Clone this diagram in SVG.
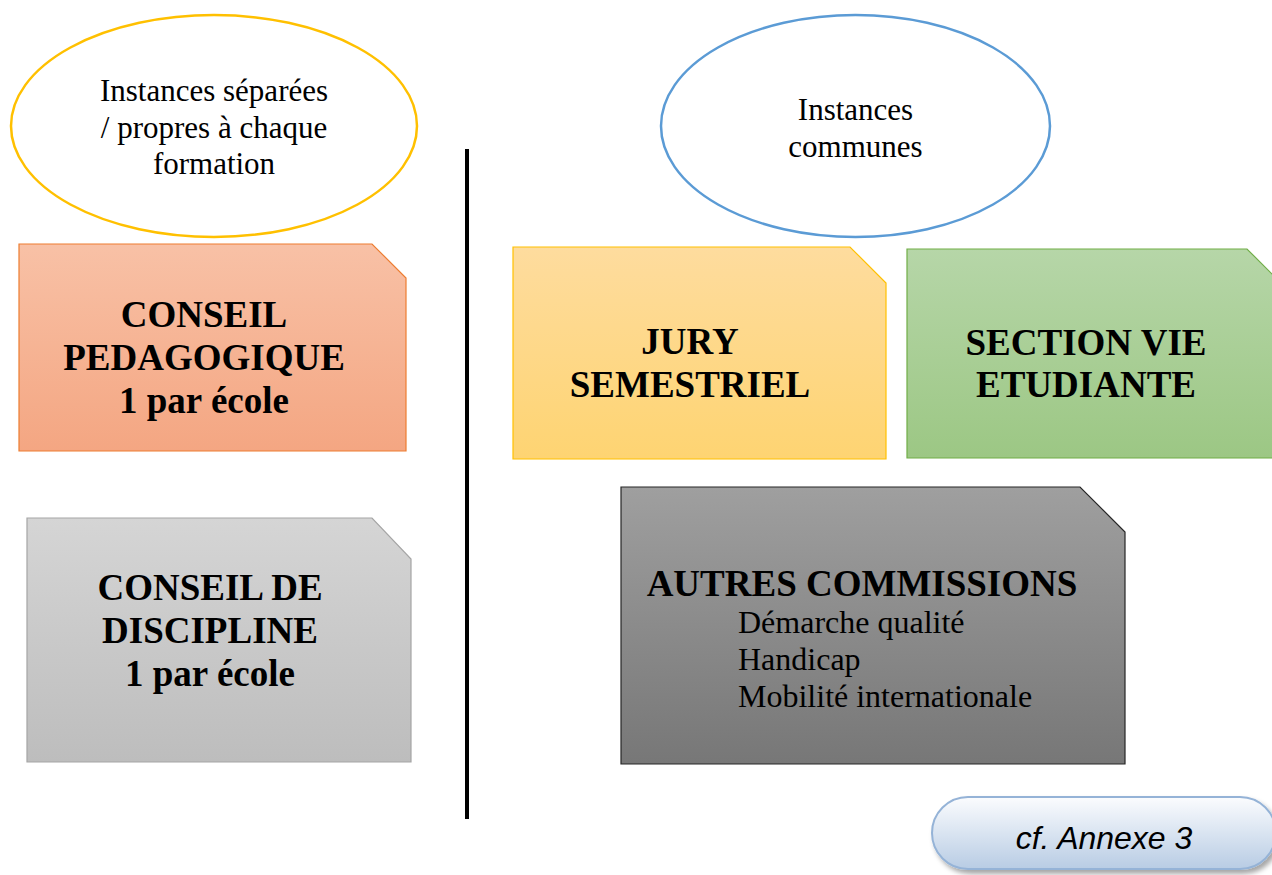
<svg xmlns="http://www.w3.org/2000/svg" width="1272" height="875" viewBox="0 0 1272 875">
<style>
.ser{font-family:"Liberation Serif","Times New Roman",serif;fill:#000;text-anchor:middle}
.big{font-size:37px;font-weight:bold}
.mid{font-size:31px}
.sub{font-size:32px;text-anchor:start}
.btn{font-family:"Liberation Sans",Arial,sans-serif;font-size:32px;font-style:italic;text-anchor:middle;fill:#000}
</style>
<defs>
<linearGradient id="gOr" x1="0" y1="0" x2="0" y2="1"><stop offset="0" stop-color="#F8C1A6"/><stop offset="1" stop-color="#F4A682"/></linearGradient>
<linearGradient id="gYe" x1="0" y1="0" x2="0" y2="1"><stop offset="0" stop-color="#FEDC9E"/><stop offset="1" stop-color="#FED472"/></linearGradient>
<linearGradient id="gGr" x1="0" y1="0" x2="0" y2="1"><stop offset="0" stop-color="#B6D6A8"/><stop offset="1" stop-color="#9CC784"/></linearGradient>
<linearGradient id="gDk" x1="0" y1="0" x2="0" y2="1"><stop offset="0" stop-color="#9F9F9F"/><stop offset="1" stop-color="#777777"/></linearGradient>
<linearGradient id="gLt" x1="0" y1="0" x2="0" y2="1"><stop offset="0" stop-color="#D5D5D5"/><stop offset="1" stop-color="#BDBDBD"/></linearGradient>
<linearGradient id="gBt" x1="0" y1="0" x2="0" y2="1"><stop offset="0" stop-color="#FBFCFE"/><stop offset="1" stop-color="#B8CCE4"/></linearGradient>
<filter id="sh" x="-10%" y="-20%" width="130%" height="160%"><feDropShadow dx="3" dy="4" stdDeviation="2.5" flood-color="#000" flood-opacity="0.35"/></filter>
</defs>

<g id="ellipse-separees">
<ellipse cx="214" cy="126" rx="203" ry="111" fill="#fff" stroke="#FFC000" stroke-width="2.5"/>
<text class="ser mid" x="214" y="101">Instances séparées</text>
<text class="ser mid" x="214" y="138">/ propres à chaque</text>
<text class="ser mid" x="214" y="174">formation</text>
</g>

<g id="ellipse-communes">
<ellipse cx="855.5" cy="126" rx="194.5" ry="111" fill="#fff" stroke="#5B9BD5" stroke-width="2.5"/>
<text class="ser mid" x="855.5" y="120">Instances</text>
<text class="ser mid" x="855.5" y="157">communes</text>
</g>

<g id="separateur">
<line x1="467" y1="149" x2="467" y2="819" stroke="#000" stroke-width="4"/>
</g>

<g id="conseil-pedagogique">
<path d="M19,244 H372 L406,278 V451 H19 Z" fill="url(#gOr)" stroke="#ED7D31" stroke-width="1.2"/>
<text class="ser big" x="204" y="327">CONSEIL</text>
<text class="ser big" x="204" y="370">PEDAGOGIQUE</text>
<text class="ser big" x="204" y="413">1 par école</text>
</g>

<g id="conseil-discipline">
<path d="M27,518 H372 L411,559 V762 H27 Z" fill="url(#gLt)" stroke="#A5A5A5" stroke-width="1.2"/>
<text class="ser big" x="210" y="600">CONSEIL DE</text>
<text class="ser big" x="210" y="643">DISCIPLINE</text>
<text class="ser big" x="210" y="686">1 par école</text>
</g>

<g id="jury-semestriel">
<path d="M513,247 H850 L886,283 V459 H513 Z" fill="url(#gYe)" stroke="#FFC000" stroke-width="1.2"/>
<text class="ser big" x="690" y="354">JURY</text>
<text class="ser big" x="690" y="397">SEMESTRIEL</text>
</g>

<g id="section-vie-etudiante">
<path d="M907,249 H1247 L1284,286 V458 H907 Z" fill="url(#gGr)" stroke="#70AD47" stroke-width="1.2"/>
<text class="ser big" x="1086" y="355">SECTION VIE</text>
<text class="ser big" x="1086" y="397">ETUDIANTE</text>
</g>

<g id="autres-commissions">
<path d="M621,487 H1080 L1125,532 V764 H621 Z" fill="url(#gDk)" stroke="#262626" stroke-width="1.2"/>
<text class="ser big" x="862" y="596">AUTRES COMMISSIONS</text>
<text class="ser sub" x="738" y="633">Démarche qualité</text>
<text class="ser sub" x="738" y="670">Handicap</text>
<text class="ser sub" x="738" y="707">Mobilité internationale</text>
</g>

<g id="annexe-3">
<rect x="932" y="797" width="344" height="72" rx="36" ry="36" fill="url(#gBt)" stroke="#95B3D7" stroke-width="2" filter="url(#sh)"/>
<text class="btn" x="1104" y="849">cf. Annexe 3</text>
</g>

<g id="connectors"></g>
</svg>
